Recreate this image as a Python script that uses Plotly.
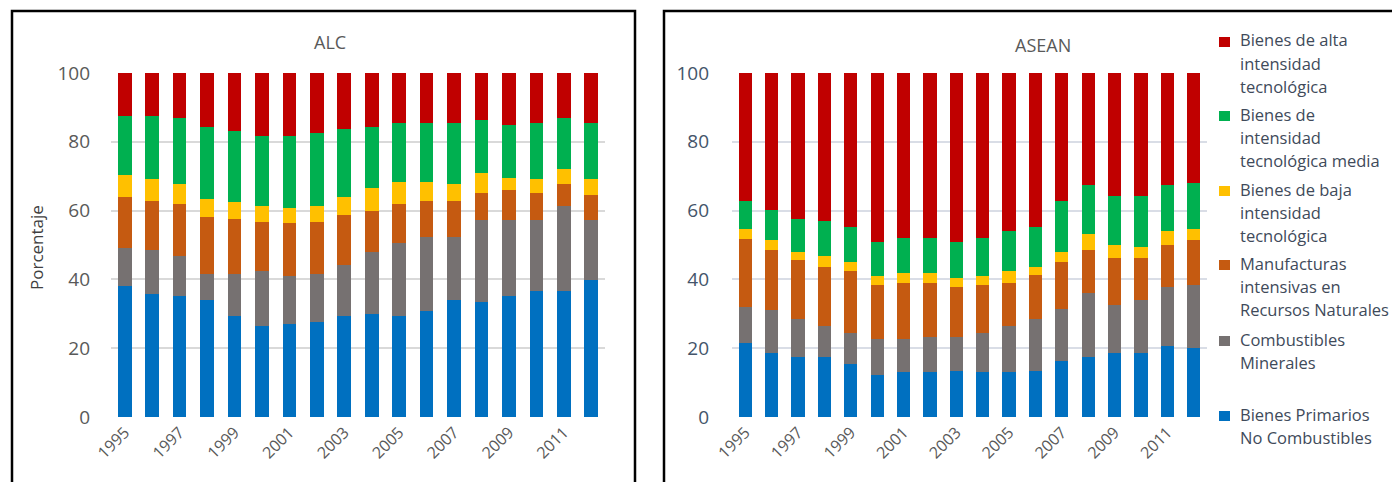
import plotly.graph_objects as go

W, H = 1400, 482
OFF = 8  # default page body margin in the browser

years = [str(y) for y in range(1995, 2013)]
tick_years = [str(y) for y in range(1995, 2013, 2)]
yticks = [0, 20, 40, 60, 80, 100]

series_names = [
    "Bienes Primarios No Combustibles",
    "Combustibles Minerales",
    "Manufacturas intensivas en Recursos Naturales",
    "Bienes de baja intensidad tecnológica",
    "Bienes de intensidad tecnológica media",
    "Bienes de alta intensidad tecnológica",
]
colors = ["#0070c0", "#767171", "#c55a11", "#ffc000", "#00b050", "#c00000"]

# ALC (percent shares)
alc_primarios = [38.2, 35.9, 35.1, 33.9, 29.5, 26.4, 26.9, 27.6, 29.5, 30.0, 29.5, 30.8, 33.9, 33.4, 35.1, 36.5, 36.5, 39.7]
alc_combustibles = [11.0, 12.7, 11.7, 7.8, 12.2, 15.9, 14.0, 14.1, 14.7, 18.0, 21.0, 21.6, 18.5, 24.0, 22.3, 20.9, 24.9, 17.7]
alc_manuf_rn = [14.7, 14.1, 15.1, 16.5, 15.8, 14.5, 15.4, 15.1, 14.5, 12.0, 11.4, 10.3, 10.3, 7.8, 8.5, 7.8, 6.3, 7.2]
alc_baja = [6.4, 6.4, 5.8, 5.1, 5.1, 4.6, 4.5, 4.6, 5.3, 6.5, 6.5, 5.7, 5.0, 5.7, 3.7, 3.9, 4.4, 4.5]
alc_media = [17.1, 18.3, 19.1, 20.9, 20.5, 20.4, 21.0, 21.1, 19.7, 17.7, 17.2, 17.2, 17.9, 15.3, 15.4, 16.5, 14.7, 16.5]
alc_alta = [12.6, 12.6, 13.2, 15.8, 16.9, 18.2, 18.2, 17.5, 16.3, 15.8, 14.4, 14.4, 14.4, 13.8, 15.0, 14.4, 13.2, 14.4]

# ASEAN (percent shares)
asean_primarios = [21.4, 18.6, 17.5, 17.5, 15.5, 12.2, 13.0, 13.0, 13.5, 13.0, 13.0, 13.5, 16.2, 17.5, 18.6, 18.6, 20.6, 20.0]
asean_combustibles = [10.7, 12.4, 10.9, 8.9, 9.0, 10.5, 9.7, 10.3, 9.8, 11.5, 13.4, 14.9, 15.3, 18.5, 14.1, 15.5, 17.3, 18.4]
asean_manuf_rn = [19.7, 17.6, 17.1, 17.1, 17.8, 15.6, 16.4, 15.8, 14.6, 13.8, 12.7, 12.8, 13.5, 12.6, 13.5, 12.1, 12.2, 13.0]
asean_baja = [2.8, 2.8, 2.6, 3.4, 2.7, 2.7, 2.7, 2.7, 2.5, 2.7, 3.2, 2.5, 3.1, 4.7, 3.9, 3.2, 3.9, 3.2]
asean_media = [8.2, 8.8, 9.6, 10.2, 10.2, 9.8, 10.1, 10.1, 10.4, 10.9, 11.7, 11.5, 14.7, 14.1, 14.2, 14.9, 13.4, 13.4]
asean_alta = [37.2, 39.8, 42.3, 42.9, 44.8, 49.2, 48.1, 48.1, 49.2, 48.1, 46.0, 44.8, 37.2, 32.6, 35.7, 35.7, 32.6, 32.0]

alc = [alc_primarios, alc_combustibles, alc_manuf_rn, alc_baja, alc_media, alc_alta]
asean = [asean_primarios, asean_combustibles, asean_manuf_rn, asean_baja, asean_media, asean_alta]

# legend text lines (top to bottom)
legend_lines = [
    ["Bienes de alta", "intensidad", "tecnológica"],
    ["Bienes de", "intensidad", "tecnológica media"],
    ["Bienes de baja", "intensidad", "tecnológica"],
    ["Manufacturas", "intensivas en", "Recursos Naturales"],
    ["Combustibles", "Minerales"],
    ["Bienes Primarios", "No Combustibles"],
]
legend_colors = ["#c00000", "#00b050", "#ffc000", "#c55a11", "#767171", "#0070c0"]


def px(x):
    return (x - OFF) / W


def py(y):
    return 1 - (y - OFF) / H


fig = go.Figure()
for name, col, vals in zip(series_names, colors, alc):
    fig.add_trace(go.Bar(x=years, y=vals, name=name, marker=dict(color=col, line=dict(width=0)),
                         xaxis="x", yaxis="y", showlegend=False))
for name, col, vals in zip(series_names, colors, asean):
    fig.add_trace(go.Bar(x=years, y=vals, name=name, marker=dict(color=col, line=dict(width=0)),
                         xaxis="x2", yaxis="y2", showlegend=False))

font_family = "Open Sans, Lato, sans-serif"
ydom = [py(417), py(73)]

xcommon = dict(type="category", tickmode="array", tickvals=tick_years, ticktext=tick_years,
               tickangle=-45, showgrid=False, zeroline=False, showline=False, ticks="",
               automargin=False, ticklabelstandoff=2,
               tickfont=dict(family=font_family, size=16, color="#595959"))

fig.update_layout(
    width=W, height=H,
    margin=dict(l=0, r=0, t=0, b=0, autoexpand=False),
    paper_bgcolor="white", plot_bgcolor="white",
    barmode="stack", bargap=0.5,
    xaxis=dict(domain=[px(111), px(605)], anchor="y", **xcommon),
    yaxis=dict(domain=ydom, range=[0, 100], tickvals=yticks, showgrid=True,
               gridcolor="#d9d9d9", gridwidth=1.5, zeroline=False, showline=False,
               ticklabelstandoff=20, automargin=False,
               tickfont=dict(family=font_family, size=19, color="#595959"), anchor="x"),
    xaxis2=dict(domain=[px(732), px(1207)], anchor="y2", **xcommon),
    yaxis2=dict(domain=ydom, range=[0, 100], tickvals=yticks, showgrid=True,
                gridcolor="#d9dde6", gridwidth=1.5, zeroline=False, showline=False,
                ticklabelstandoff=22, automargin=False,
                tickfont=dict(family=font_family, size=19, color="#44546a"), anchor="x2"),
    font=dict(family=font_family),
)

shapes = [
    dict(type="rect", xref="paper", yref="paper", x0=px(12), x1=px(635), y0=py(11), y1=-0.1,
         line=dict(color="black", width=2.5), fillcolor="rgba(0,0,0,0)", layer="above"),
    dict(type="rect", xref="paper", yref="paper", x0=px(664), x1=1.1, y0=py(11), y1=-0.1,
         line=dict(color="black", width=2.5), fillcolor="rgba(0,0,0,0)", layer="above"),
]

annotations = [
    dict(text="ALC", x=px(330), y=py(42), xref="paper", yref="paper", showarrow=False,
         xanchor="center", yanchor="middle", font=dict(size=18, color="#595959", family=font_family)),
    dict(text="ASEAN", x=px(1043), y=py(45), xref="paper", yref="paper", showarrow=False,
         xanchor="center", yanchor="middle", font=dict(size=18, color="#595959", family=font_family)),
    dict(text="Porcentaje", x=px(36), y=py(248), xref="paper", yref="paper", showarrow=False,
         textangle=-90, xanchor="center", yanchor="middle",
         font=dict(size=17, color="#404040", family=font_family)),
]

first_line_y = [40, 114, 189, 263, 339, 414]
line_step = 23.3
for lines, col, y0 in zip(legend_lines, legend_colors, first_line_y):
    shapes.append(dict(type="rect", xref="paper", yref="paper",
                       x0=px(1219), x1=px(1230), y0=py(y0 - 3), y1=py(y0 + 7),
                       fillcolor=col, line=dict(width=0)))
    for i, t in enumerate(lines):
        annotations.append(dict(text=t, x=px(1238), y=py(y0 + i * line_step), xref="paper", yref="paper",
                                showarrow=False, xanchor="left", yanchor="middle",
                                font=dict(size=16.5, color="#404a5a", family=font_family)))

fig.update_layout(shapes=shapes, annotations=annotations)
fig.write_html("out.html")
